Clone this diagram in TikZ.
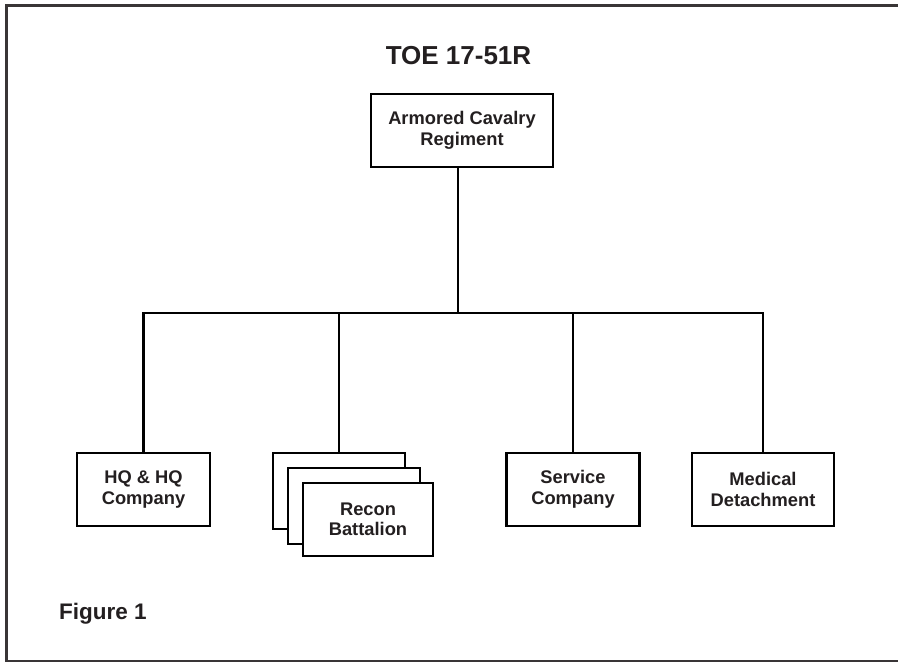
\documentclass[tikz,border=0pt]{standalone}
\usepackage{fontspec}
\setmainfont{Liberation Sans}
\definecolor{ink}{HTML}{231F20}
\begin{document}
\begin{tikzpicture}[x=1pt,y=-1pt,
  box/.style={draw=black, line width=2.6pt, fill=white, inner sep=0pt,
    align=center, text=ink, font=\bfseries\fontsize{18.3}{20.5}\selectfont},
  link/.style={draw=black, line width=2.6pt}]
\useasboundingbox (0,0) rectangle (898,662);
\clip (0,0) rectangle (898,662);
\fill[white] (0,0) rectangle (898,662);
% frame
\draw[line width=3pt, draw=ink!90] (6,5) rectangle (920,661);
% title
\node[anchor=base, text=ink, font=\bfseries\fontsize{26}{30}\selectfont] (title) at (458.5,64) {TOE 17-51R};
% top box
\node[box, minimum width=182pt, minimum height=73pt] (acr) at (462,130.5) {Armored Cavalry\\Regiment};
% children
\node[box, minimum width=133pt, minimum height=73pt] (hq) at (143.5,489.5) {HQ \& HQ\\Company};
\node[box, minimum width=132pt, minimum height=76pt] (rb3) at (339,491) {};
\node[box, minimum width=132pt, minimum height=76pt] (rb2) at (354,506) {};
\node[box, minimum width=130pt, minimum height=73pt] (rb) at (368,519.5) {Recon\\Battalion};
\node[box, minimum width=133pt, minimum height=73pt] (svc) at (573,489.5) {Service\\Company};
\node[box, minimum width=142pt, minimum height=73pt] (med) at (763,489.5) {Medical\\Detachment};
% connectors
\coordinate (bar) at (458,313);
\draw[link] (acr.south -| bar) -- (bar);
\draw[link] (hq.north) -- (hq.north |- bar) -- (med.north |- bar) -- (med.north);
\draw[link] (rb3.north) -- (rb3.north |- bar);
\draw[link] (svc.north) -- (svc.north |- bar);
% figure label
\node[anchor=base west, inner sep=0pt, text=ink, font=\bfseries\fontsize{22.5}{26}\selectfont] (fig) at (59,619) {Figure 1};
\end{tikzpicture}
\end{document}
